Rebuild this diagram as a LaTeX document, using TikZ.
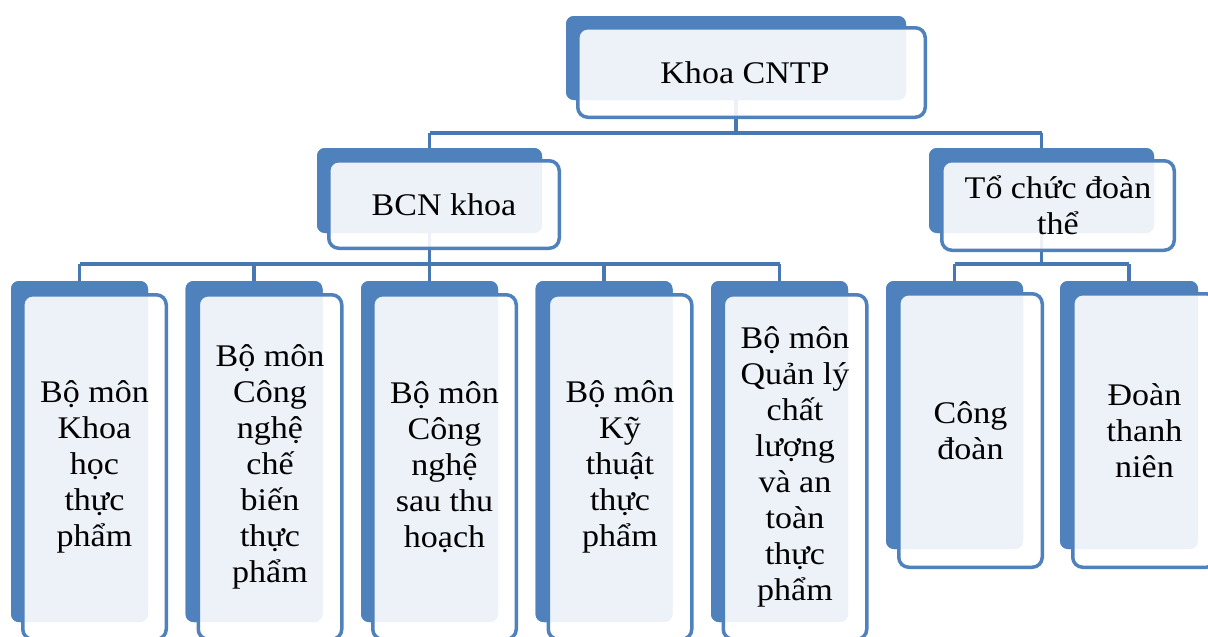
\documentclass[tikz,border=0pt]{standalone}
\usepackage{fontspec}
\setmainfont[FakeStretch=1.08]{Liberation Serif}
\definecolor{accent}{RGB}{79,129,189}
\definecolor{conn}{RGB}{72,120,180}
\begin{document}
\begin{tikzpicture}[x=1pt,y=-1pt,
  backbox/.style={rectangle,rounded corners=8pt,fill=accent,draw=none,inner sep=0pt},
  frontbox/.style={rectangle,rounded corners=10pt,draw=accent,line width=3.5pt,fill=white,fill opacity=0.9,text opacity=1,inner sep=0pt,align=center,font=\fontsize{31.5}{36}\selectfont},
  boxtext/.style={inner sep=0pt,align=center,font=\fontsize{31.5}{36}\selectfont},
  link/.style={draw=conn,line width=3.8pt}]
\useasboundingbox (0,0) rectangle (1208,637);
\fill[white] (0,0) rectangle (1208,637);
\clip (0,0) rectangle (1208,637);

% coordinates of the bus lines
\coordinate (busA) at (0,133);
\coordinate (busB) at (0,264);

% back boxes
\node[backbox,minimum width=340pt,minimum height=84pt] (kb) at (736,58) {};
\node[backbox,minimum width=225pt,minimum height=85pt] (bb) at (429.5,190.5) {};
\node[backbox,minimum width=225pt,minimum height=85pt] (tb) at (1041.5,190.5) {};
\foreach \n/\x in {b1/79.5,b2/254,b3/429.5,b4/604,b5/779.5}
  \node[backbox,minimum width=137pt,minimum height=341pt] (\n) at (\x,451.5) {};
\node[backbox,minimum width=137pt,minimum height=268pt] (c1) at (954.5,415) {};
\node[backbox,minimum width=138pt,minimum height=268pt] (c2) at (1129,415) {};

% connectors
\draw[link] (kb.center) -- (kb.center |- busA);
\draw[link] (bb.north |- busA) -- (tb.north |- busA);
\draw[link] (bb.north |- busA) -- (bb.north);
\draw[link] (tb.north |- busA) -- (tb.north);
\draw[link] (bb.center) -- (bb.center |- busB);
\draw[link] (b1.north |- busB) -- (b5.north |- busB);
\foreach \n in {b1,b2,b3,b4,b5} \draw[link] (\n.north |- busB) -- (\n.north);
\draw[link] (tb.center) -- (tb.center |- busB);
\draw[link] (c1.north |- busB) -- (c2.north |- busB);
\foreach \n in {c1,c2} \draw[link] (\n.north |- busB) -- (\n.north);

% redraw back boxes over the connector stubs
\node[backbox,minimum width=340pt,minimum height=84pt] at (kb) {};
\node[backbox,minimum width=225pt,minimum height=85pt] at (bb) {};
\node[backbox,minimum width=225pt,minimum height=85pt] at (tb) {};
\foreach \n in {b1,b2,b3,b4,b5}
  \node[backbox,minimum width=137pt,minimum height=341pt] at (\n) {};
\node[backbox,minimum width=137pt,minimum height=268pt] at (c1) {};
\node[backbox,minimum width=138pt,minimum height=268pt] at (c2) {};

% front boxes
\node[frontbox,minimum width=347.5pt,minimum height=89.5pt] (k) at (751.5,72.5) {};
\node[boxtext] (kt) at (745,73) {Khoa CNTP};
\node[frontbox,minimum width=230.5pt,minimum height=87.5pt] (bcn) at (444,204.5) {BCN khoa};
\node[frontbox,minimum width=232.5pt,minimum height=89.5pt] (tc) at (1058,205.5) {Tổ chức đoàn\\thể};
\node[frontbox,minimum width=143.5pt,minimum height=344.5pt] (m1) at (94.5,467) {Bộ môn\\Khoa\\học\\thực\\phẩm};
\node[frontbox,minimum width=143.5pt,minimum height=344.5pt] (m2) at (270,467) {Bộ môn\\Công\\nghệ\\chế\\biến\\thực\\phẩm};
\node[frontbox,minimum width=143.5pt,minimum height=344.5pt] (m3) at (444.5,467) {Bộ môn\\Công\\nghệ\\sau thu\\hoạch};
\node[frontbox,minimum width=143.5pt,minimum height=344.5pt] (m4) at (620,467) {Bộ môn\\Kỹ\\thuật\\thực\\phẩm};
\node[frontbox,minimum width=143.5pt,minimum height=344.5pt] (m5) at (795,467) {Bộ môn\\Quản lý\\chất\\lượng\\và an\\toàn\\thực\\phẩm};
\node[frontbox,minimum width=143.5pt,minimum height=273.5pt] (d1) at (970.5,430.5) {Công\\đoàn};
\node[frontbox,minimum width=143.5pt,minimum height=273.5pt] (d2) at (1144.5,430.5) {Đoàn\\thanh\\niên};
\end{tikzpicture}
\end{document}
